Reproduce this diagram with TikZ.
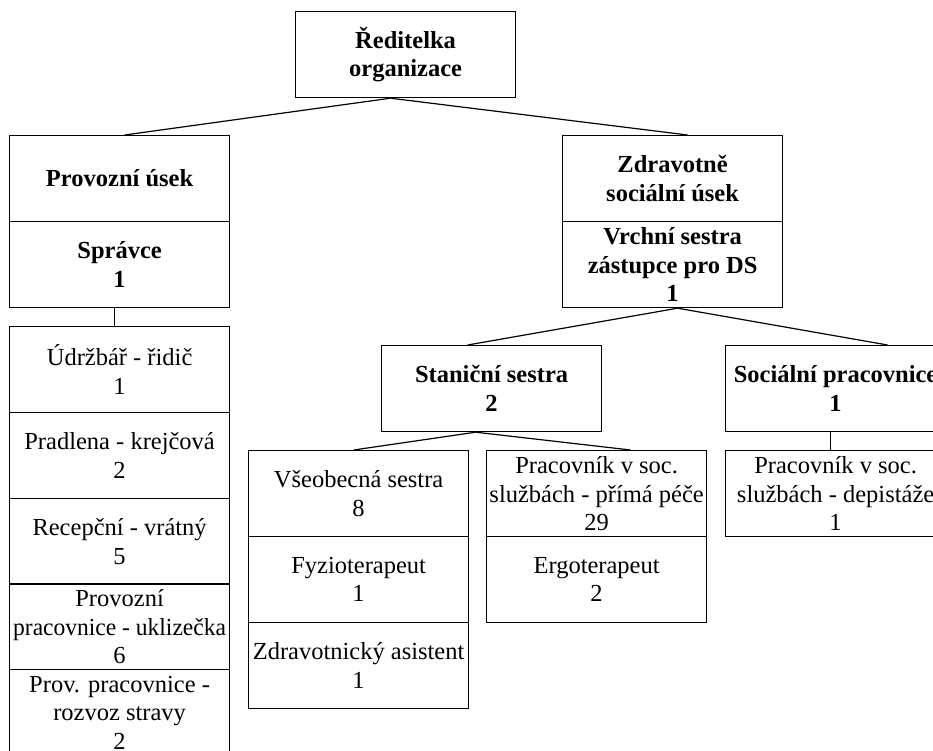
\documentclass[tikz,border=0pt]{standalone}
\usepackage{fontspec}
\usepackage{graphicx}
\setmainfont{Liberation Serif}
\begin{document}
\begin{tikzpicture}[x=1pt,y=-1pt,
  orgbox/.style={draw, line width=1.2pt, anchor=north west, minimum width=220pt, minimum height=86pt,
    inner sep=0pt, align=center, font=\fontsize{24.5}{28.5}\selectfont},
  boldbox/.style={orgbox, font=\fontsize{24.5}{28.5}\selectfont\bfseries},
  link/.style={line width=1.2pt}]
\useasboundingbox (0,0) rectangle (933,751);
% top
\node[boldbox] (dir) at (295,11) {Ředitelka\\organizace};
% left branch
\node[boldbox] (prov) at (9,135) {Provozní úsek};
\node[boldbox] (spr) at (9,221) {Správce\\1};
\node[orgbox] (udr) at (9,326) {Údržbář - řidič\\1};
\node[orgbox] (pradl) at (9,412) {Pradlena - krejčová\\2};
\node[orgbox] (recep) at (9,498) {Recepční - vrátný\\5};
\node[orgbox] (provp) at (9,583) {Provozní\\\makebox[0pt]{\scalebox{0.96}[1]{pracovnice - uklizečka}}\\6};
\node[orgbox] (provr) at (9,669) {Prov. pracovnice -\\rozvoz stravy\\2};
% right branch
\node[boldbox] (zdr) at (562,135) {Zdravotně\\sociální úsek};
\node[boldbox] (vrch) at (562,221) {Vrchní sestra\\zástupce pro DS\\1};
\node[boldbox] (stan) at (381,345) {Staniční sestra\\2};
\node[boldbox] (soc) at (725,345) {Sociální pracovnice\\1};
\node[orgbox] (vseob) at (248,450) {Všeobecná sestra\\8};
\node[orgbox] (fyzio) at (248,536) {Fyzioterapeut\\1};
\node[orgbox] (zdrava) at (248,622) {Zdravotnický asistent\\1};
\node[orgbox] (prac) at (486,450) {Pracovník v soc.\\službách - přímá péče\\29};
\node[orgbox] (ergo) at (486,536) {Ergoterapeut\\2};
\node[orgbox] (dep) at (725,450) {Pracovník v soc.\\službách - depistáže\\1};
% connectors
\draw[link] ([xshift=-15pt]dir.south) -- ([xshift=5pt]prov.north);
\draw[link] ([xshift=-15pt]dir.south) -- ([xshift=15pt]zdr.north);
\draw[link] ([xshift=-5pt]spr.south) -- ([xshift=-5pt]udr.north);
\draw[link] ([xshift=5pt]vrch.south) -- ([xshift=-24pt]stan.north);
\draw[link] ([xshift=5pt]vrch.south) -- ([xshift=52pt]soc.north);
\draw[link] ([xshift=-16pt]stan.south) -- ([xshift=-5pt]vseob.north);
\draw[link] ([xshift=-16pt]stan.south) -- ([xshift=34pt]prac.north);
\draw[link] ([xshift=-5pt]soc.south) -- ([xshift=-5pt]dep.north);
\end{tikzpicture}
\end{document}
